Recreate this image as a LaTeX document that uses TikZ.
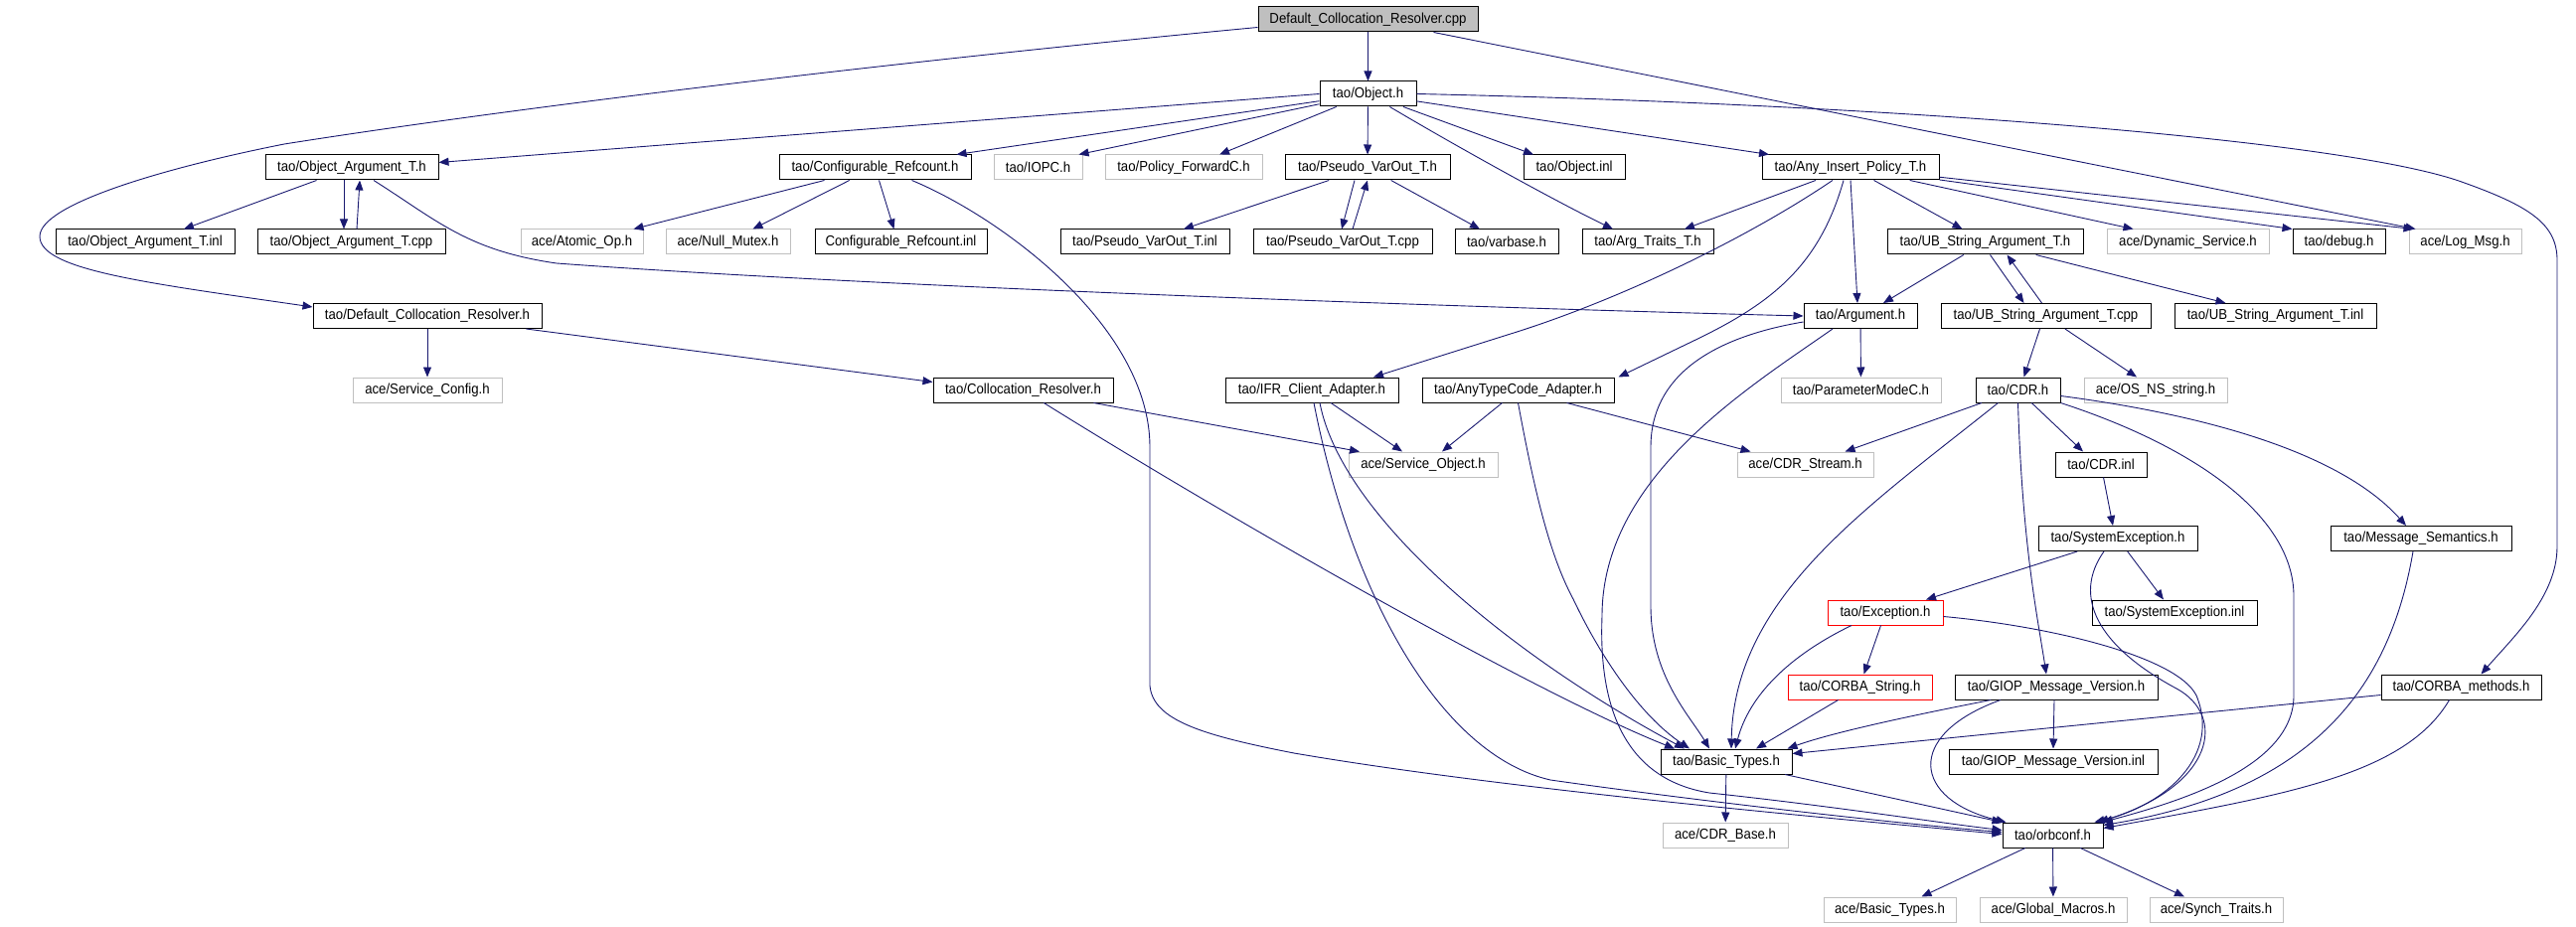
\documentclass[tikz,border=0pt]{standalone}
\usepackage{fontspec}
\setmainfont{Liberation Sans}[FakeStretch=0.91]
\usetikzlibrary{arrows.meta}
\definecolor{edgeblue}{HTML}{191970}
\definecolor{sysgray}{HTML}{BFBFBF}
\tikzset{
	hdr/.style={draw=black, line width=1pt, fill=white, minimum height=25pt, inner xsep=2pt, inner ysep=0pt, font=\fontsize{14.5}{17}\selectfont},
	sys/.style={hdr, draw=sysgray},
	miss/.style={hdr, draw=red},
	root/.style={hdr, fill=sysgray},
	inc/.style={draw=edgeblue, line width=0.9pt, -{Triangle[length=10pt,width=8pt]}}
}

\begin{document}
\begin{tikzpicture}[x=1pt,y=-1pt]
		%%%%% START %%%%%
		\useasboundingbox (0,0) rectangle (2592,933);
		
		\node[root, minimum width=221] (dcrcpp) at (1376.5,19.5) {Default\_Collocation\_Resolver.cpp};
		\node[hdr, minimum width=97] (objh) at (1376.5,94.5) {tao/Object.h};
		
		\node[hdr, minimum width=174] (oath) at (354,168.5) {tao/Object\_Argument\_T.h};
		\node[hdr, minimum width=193] (crh) at (880.5,168.5) {tao/Configurable\_Refcount.h};
		\node[sys, minimum width=89] (iopc) at (1044.5,168.5) {tao/IOPC.h};
		\node[sys, minimum width=158] (polfwd) at (1191,168.5) {tao/Policy\_ForwardC.h};
		\node[hdr, minimum width=166] (pvoh) at (1376,168.5) {tao/Pseudo\_VarOut\_T.h};
		\node[hdr, minimum width=102] (objinl) at (1584,168.5) {tao/Object.inl};
		\node[hdr, minimum width=178] (aiph) at (1862,168.5) {tao/Any\_Insert\_Policy\_T.h};
		
		\node[hdr, minimum width=180] (oatinl) at (146,243.5) {tao/Object\_Argument\_T.inl};
		\node[hdr, minimum width=189] (oatcpp) at (353.5,243.5) {tao/Object\_Argument\_T.cpp};
		\node[sys, minimum width=123] (atomic) at (585.5,243.5) {ace/Atomic\_Op.h};
		\node[sys, minimum width=125] (nullmtx) at (732.5,243.5) {ace/Null\_Mutex.h};
		\node[hdr, minimum width=173] (crinl) at (906.5,243.5) {Configurable\_Refcount.inl};
		\node[hdr, minimum width=170] (pvoinl) at (1152,243.5) {tao/Pseudo\_VarOut\_T.inl};
		\node[hdr, minimum width=180] (pvocpp) at (1351,243.5) {tao/Pseudo\_VarOut\_T.cpp};
		\node[hdr, minimum width=104] (varbase) at (1516,243.5) {tao/varbase.h};
		\node[hdr, minimum width=132] (argtr) at (1658,243.5) {tao/Arg\_Traits\_T.h};
		\node[hdr, minimum width=197] (ubh) at (1997.5,243.5) {tao/UB\_String\_Argument\_T.h};
		\node[sys, minimum width=163] (dynsvc) at (2201.5,243.5) {ace/Dynamic\_Service.h};
		\node[hdr, minimum width=93] (debugh) at (2353.5,243.5) {tao/debug.h};
		\node[sys, minimum width=113] (logmsg) at (2480.5,243.5) {ace/Log\_Msg.h};
		
		\node[hdr, minimum width=230] (dcrh) at (430,318) {tao/Default\_Collocation\_Resolver.h};
		\node[hdr, minimum width=114] (argh) at (1872,318) {tao/Argument.h};
		\node[hdr, minimum width=211] (ubcpp) at (2058.5,318) {tao/UB\_String\_Argument\_T.cpp};
		\node[hdr, minimum width=203] (ubinl) at (2289.5,318) {tao/UB\_String\_Argument\_T.inl};
		
		\node[sys, minimum width=150] (svccfg) at (430,392.5) {ace/Service\_Config.h};
		\node[hdr, minimum width=181] (colres) at (1029.5,392.5) {tao/Collocation\_Resolver.h};
		\node[hdr, minimum width=174] (ifr) at (1320,392.5) {tao/IFR\_Client\_Adapter.h};
		\node[hdr, minimum width=193] (atc) at (1527.5,392.5) {tao/AnyTypeCode\_Adapter.h};
		\node[sys, minimum width=161] (pmode) at (1872.5,392.5) {tao/ParameterModeC.h};
		\node[hdr, minimum width=85] (cdrh) at (2030.5,392.5) {tao/CDR.h};
		\node[sys, minimum width=144] (osns) at (2169,392.5) {ace/OS\_NS\_string.h};
		
		\node[sys, minimum width=150] (svcobj) at (1432,467.5) {ace/Service\_Object.h};
		\node[sys, minimum width=137] (cdrstr) at (1816.5,467.5) {ace/CDR\_Stream.h};
		\node[hdr, minimum width=92] (cdrinl) at (2114,467.5) {tao/CDR.inl};
		
		\node[hdr, minimum width=160] (sysexc) at (2131,542) {tao/SystemException.h};
		\node[hdr, minimum width=182] (msgsem) at (2436,542) {tao/Message\_Semantics.h};
		
		\node[miss, minimum width=116] (exch) at (1897,616.5) {tao/Exception.h};
		\node[hdr, minimum width=166] (sysinl) at (2188,616.5) {tao/SystemException.inl};
		
		\node[miss, minimum width=145] (corbastr) at (1871.5,691.5) {tao/CORBA\_String.h};
		\node[hdr, minimum width=204] (giop) at (2069,691.5) {tao/GIOP\_Message\_Version.h};
		\node[hdr, minimum width=161] (corbam) at (2476.5,691.5) {tao/CORBA\_methods.h};
		
		\node[hdr, minimum width=132] (btypes) at (1737,766.5) {tao/Basic\_Types.h};
		\node[hdr, minimum width=210] (giopinl) at (2066,766.5) {tao/GIOP\_Message\_Version.inl};
		
		\node[sys, minimum width=126] (cdrbase) at (1736,840.5) {ace/CDR\_Base.h};
		\node[hdr, minimum width=101] (orbconf) at (2065.5,840.5) {tao/orbconf.h};
		
		\node[sys, minimum width=133] (acebt) at (1901.5,915.5) {ace/Basic\_Types.h};
		\node[sys, minimum width=148] (globm) at (2066,915.5) {ace/Global\_Macros.h};
		\node[sys, minimum width=134] (synch) at (2230,915.5) {ace/Synch\_Traits.h};
		
		% Default_Collocation_Resolver.cpp
		\draw[inc] (dcrcpp) -- (objh);
		\draw[inc] ([yshift=-8pt]dcrcpp.west) .. controls (900,62) and (520,108) .. (286,145) .. controls (170,168) and (40,205) .. (40,238) .. controls (40,272) and (150,285) .. ([yshift=9pt]dcrh.west);
		\draw[inc] ([xshift=66pt]dcrcpp.south) -- ([xshift=-50pt]logmsg.north);
		
		% tao/Object.h
		\draw[inc] (objh.west) -- ([yshift=5pt]oath.east);
		\draw[inc] (objh) -- ([xshift=82pt]crh.north);
		\draw[inc] (objh) -- ([xshift=-4pt]iopc.north east);
		\draw[inc] (objh) -- ([xshift=36pt]polfwd.north);
		\draw[inc] (objh) -- (pvoh);
		\draw[inc] (objh) -- ([xshift=-41pt]objinl.north);
		\draw[inc] (objh) .. controls (1470,150) and (1570,205) .. ([xshift=-35pt]argtr.north);
		\draw[inc] (objh) -- ([xshift=-82pt]aiph.north);
		\draw[inc] (objh.east) .. controls (1900,105) and (2350,140) .. (2474,182) .. controls (2545,207) and (2573,225) .. (2573,262) -- (2573,550) .. controls (2573,600) and (2530,640) .. ([xshift=20pt]corbam.north);
		
		% tao/Object_Argument_T.h
		\draw[inc] (oath) -- ([xshift=39pt]oatinl.north);
		\draw[inc] ([xshift=-8pt]oath.south) -- ([xshift=-7.5pt]oatcpp.north);
		\draw[inc] ([xshift=5.5pt]oatcpp.north) -- ([xshift=8pt]oath.south);
		\draw[inc] ([xshift=22pt]oath.south) .. controls (440,222) and (470,252) .. (560,265) .. controls (900,290) and (1500,310) .. (argh.west);
		
		% tao/Configurable_Refcount.h
		\draw[inc] (crh) -- ([xshift=52pt]atomic.north);
		\draw[inc] (crh) -- ([xshift=25pt]nullmtx.north);
		\draw[inc] (crh) -- ([xshift=-7pt]crinl.north);
		\draw[inc] ([xshift=37pt]crh.south) .. controls (1010,220) and (1157,330) .. (1157,450) -- (1157,690) .. controls (1160,725) and (1210,740) .. (1302,758) .. controls (1500,792) and (1800,820) .. ([yshift=1pt]orbconf.west);
		
		% tao/Pseudo_VarOut_T.h
		\draw[inc] (pvoh) -- ([xshift=39pt]pvoinl.north);
		\draw[inc] ([xshift=-13pt]pvoh.south) -- ([xshift=-1pt]pvocpp.north);
		\draw[inc] ([xshift=10pt]pvocpp.north) -- (pvoh.south);
		\draw[inc] (pvoh) -- ([xshift=-27pt]varbase.north);
		
		% tao/Any_Insert_Policy_T.h
		\draw[inc] (aiph) -- ([xshift=37pt]argtr.north);
		\draw[inc] ([xshift=-18pt]aiph.south) .. controls (1750,245) and (1620,305) .. (1520,336) -- ([xshift=62pt]ifr.north);
		\draw[inc] ([xshift=-7pt]aiph.south) .. controls (1830,270) and (1780,307) .. (1700,345) -- ([xshift=101pt]atc.north);
		\draw[inc] (aiph.south) -- ([xshift=-3pt]argh.north);
		\draw[inc] (aiph) -- ([xshift=-23pt]ubh.north);
		\draw[inc] (aiph) -- ([xshift=-55pt]dynsvc.north);
		\draw[inc] (aiph) -- (debugh.north west);
		\draw[inc] (aiph) -- ([xshift=5pt]logmsg.north west);
		
		% tao/UB_String_Argument_T.h and .cpp
		\draw[inc] (ubh) -- ([xshift=23pt]argh.north);
		\draw[inc] ([xshift=5pt]ubh.south) -- ([xshift=-22pt]ubcpp.north);
		\draw[inc] ([xshift=-4pt]ubcpp.north) -- ([xshift=22pt]ubh.south);
		\draw[inc] (ubh) -- ([xshift=-50pt]ubinl.north);
		\draw[inc] ([xshift=-6pt]ubcpp.south) -- ([xshift=6pt]cdrh.north);
		\draw[inc] (ubcpp) -- ([xshift=-19pt]osns.north);
		
		% tao/Default_Collocation_Resolver.h
		\draw[inc] (dcrh) -- (svccfg);
		\draw[inc] (dcrh) -- ([yshift=8pt]colres.west);
		
		% tao/Collocation_Resolver.h
		\draw[inc] (colres) -- ([xshift=-64pt]svcobj.north);
		\draw[inc] (colres) .. controls (1250,530) and (1550,700) .. ([xshift=-52pt]btypes.north);
		
		% tao/IFR_Client_Adapter.h
		\draw[inc] (ifr) -- ([xshift=-21pt]svcobj.north);
		\draw[inc] ([xshift=8pt]ifr.south) .. controls (1350,520) and (1520,660) .. ([xshift=-42pt]btypes.north);
		\draw[inc] ([xshift=2pt]ifr.south) .. controls (1360,600) and (1450,760) .. (1560,785) .. controls (1700,805) and (1900,828) .. ([yshift=3pt]orbconf.west);
		
		% tao/AnyTypeCode_Adapter.h
		\draw[inc] (atc) -- ([xshift=19pt]svcobj.north);
		\draw[inc] (atc) -- ([xshift=-55pt]cdrstr.north);
		\draw[inc] (atc.south) .. controls (1545,500) and (1560,560) .. (1583,603) .. controls (1610,660) and (1650,720) .. ([xshift=-37pt]btypes.north);
		
		% tao/Argument.h
		\draw[inc] (argh) -- (pmode);
		\draw[inc] ([yshift=-6pt]argh.west) .. controls (1720,340) and (1661,380) .. (1661,450) -- (1661,610) .. controls (1661,680) and (1700,720) .. ([xshift=-17pt]btypes.north);
		\draw[inc] ([xshift=-28pt]argh.south) .. controls (1760,390) and (1612,480) .. (1612,620) .. controls (1608,720) and (1640,785) .. (1720,798) .. controls (1850,812) and (1950,828) .. ([yshift=5pt]orbconf.west);
		
		% tao/CDR.h
		\draw[inc] (cdrh) -- ([xshift=40pt]cdrstr.north);
		\draw[inc] ([xshift=-20pt]cdrh.south) .. controls (1880,510) and (1745,600) .. ([xshift=5pt]btypes.north);
		\draw[inc] (cdrh.south) .. controls (2035,550) and (2050,620) .. ([xshift=-10pt]giop.north);
		\draw[inc] (cdrh) -- ([xshift=-18pt]cdrinl.north);
		\draw[inc] (cdrh.south east) .. controls (2210,450) and (2308,520) .. (2308,600) -- (2308,700) .. controls (2308,770) and (2200,805) .. ([xshift=-1pt]orbconf.north east);
		\draw[inc] ([yshift=-6pt]cdrh.east) .. controls (2200,415) and (2350,450) .. ([xshift=-15pt]msgsem.north);
		
		% tao/CDR.inl, tao/SystemException.h
		\draw[inc] (cdrinl) -- ([xshift=-5pt]sysexc.north);
		\draw[inc] (sysexc) -- ([xshift=41pt]exch.north);
		\draw[inc] (sysexc) -- ([xshift=-11pt]sysinl.north);
		\draw[inc] ([xshift=-14pt]sysexc.south) .. controls (2085,600) and (2110,650) .. (2190,693) .. controls (2240,720) and (2230,790) .. ([xshift=-5pt]orbconf.north east);
		
		% tao/Exception.h, tao/CORBA_String.h
		\draw[inc] (exch) -- ([xshift=4pt]corbastr.north);
		\draw[inc] ([xshift=-34pt]exch.south) .. controls (1800,660) and (1760,700) .. ([xshift=9pt]btypes.north);
		\draw[inc] ([yshift=-4pt]exch.east) .. controls (2060,630) and (2190,660) .. (2210,700) .. controls (2235,760) and (2180,810) .. ([xshift=-9pt]orbconf.north east);
		\draw[inc] (corbastr) -- ([xshift=30pt]btypes.north);
		
		% tao/GIOP_Message_Version.h
		\draw[inc] (giop) .. controls (1950,715) and (1850,735) .. ([xshift=-5pt]btypes.north east);
		\draw[inc] ([xshift=-2pt]giop.south) -- (giopinl.north);
		\draw[inc] ([xshift=-56pt]giop.south) .. controls (1915,740) and (1925,805) .. ([xshift=4pt]orbconf.north west);
		
		% tao/Message_Semantics.h, tao/CORBA_methods.h
		\draw[inc] ([xshift=-8pt]msgsem.south) .. controls (2405,690) and (2330,795) .. ([yshift=-3pt]orbconf.north east);
		\draw[inc] ([yshift=-8pt]corbam.west) -- ([yshift=8pt]btypes.east);
		\draw[inc] ([xshift=-12pt]corbam.south) .. controls (2420,780) and (2300,800) .. ([yshift=-6pt]orbconf.north east);
		
		% tao/Basic_Types.h, tao/orbconf.h
		\draw[inc] (btypes) -- (cdrbase);
		\draw[inc] (btypes) -- (orbconf.north west);
		\draw[inc] (orbconf) -- ([xshift=32pt]acebt.north);
		\draw[inc] (orbconf) -- (globm);
		\draw[inc] (orbconf) -- ([xshift=-32pt]synch.north);
		%%%%% END %%%%%
	\end{tikzpicture}
\end{document}
